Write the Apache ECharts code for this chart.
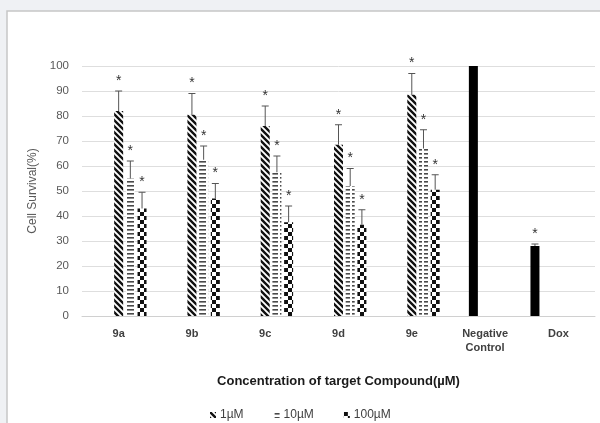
<!DOCTYPE html>
<html>
<head>
<meta charset="utf-8">
<script src="https://cdn.jsdelivr.net/npm/echarts@6/dist/echarts.min.js"></script>
<style>
html,body{margin:0;padding:0;background:#eff1f4;}
#chart{width:600px;height:423px;}
</style>
</head>
<body>
<div id="chart"></div>
<script>
const categories = ['9a', '9b', '9c', '9d', '9e', 'Negative\nControl', 'Dox'];
const yTicks = [0, 10, 20, 30, 40, 50, 60, 70, 80, 90, 100];
const seriesNames = ['1µM', '10µM', '100µM'];
const conc1 = [82, 80.5, 76, 68.5, 88.5, null, null];
const conc1Err = [8, 8.5, 8, 8, 8.5, null, null];
const conc10 = [55, 62.5, 57.5, 52, 67, null, null];
const conc10Err = [7, 5.5, 6.5, 7, 7.5, null, null];
const conc100 = [43, 47, 37.5, 36.5, 50.5, null, null];
const conc100Err = [6.5, 6, 6.5, 6, 6, null, null];
const negControl = [null, null, null, null, null, 100, null];
const dox = [null, null, null, null, null, null, 28];
const doxErr = [null, null, null, null, null, null, 0.8];

function makePattern(w, h, draw) {
  const c = document.createElement('canvas');
  c.width = w; c.height = h;
  const ctx = c.getContext('2d');
  ctx.fillStyle = '#ffffff';
  ctx.fillRect(0, 0, w, h);
  draw(ctx);
  return { image: c, repeat: 'repeat' };
}
const patDiag = makePattern(6, 6, ctx => {
  ctx.strokeStyle = '#111';
  ctx.lineWidth = 2.4;
  ctx.beginPath();
  ctx.moveTo(-1, -1); ctx.lineTo(7, 7);
  ctx.moveTo(5, -1); ctx.lineTo(7, 1);
  ctx.moveTo(-1, 5); ctx.lineTo(1, 7);
  ctx.stroke();
});
const patHoriz = makePattern(9, 4, ctx => {
  ctx.fillStyle = '#4a4a4a';
  ctx.fillRect(1, 1, 7, 1.6);
});
const patCheck = makePattern(8, 8, ctx => {
  ctx.fillStyle = '#111';
  ctx.fillRect(0, 0, 4, 4);
  ctx.fillRect(4, 4, 4, 4);
});

const BAR_W = 9;
const GAP = 2.7;
const STEP = BAR_W + GAP;

const errData = [];
function addErr(vals, errs, slot) {
  vals.forEach((v, i) => {
    if (v != null && errs[i] != null) errData.push([i, v, errs[i], slot]);
  });
}
addErr(dox, doxErr, 0);
addErr(conc1, conc1Err, 2);
addErr(conc10, conc10Err, 3);
addErr(conc100, conc100Err, 4);

const chart = echarts.init(document.getElementById('chart'), null, { renderer: 'canvas' });
const option = {
  backgroundColor: '#eff1f4',
  animation: false,
  graphic: [{
    type: 'rect', z: -100, silent: true,
    shape: { x: 7, y: 11, width: 700, height: 500 },
    style: { fill: '#ffffff', stroke: '#c6c6c6', lineWidth: 1.5 }
  }],
  grid: { left: 82, right: 5, top: 66, bottom: 107, containLabel: false },
  legend: {
    data: seriesNames,
    left: 205, top: 404,
    itemWidth: 6, itemHeight: 6, itemGap: 30,
    icon: 'rect',
    textStyle: { fontFamily: 'Liberation Sans', fontSize: 12, color: '#404040', padding: [0, 0, 0, -1] }
  },
  xAxis: {
    type: 'category',
    data: categories,
    name: 'Concentration of target Compound(µM)',
    nameLocation: 'middle',
    nameGap: 59,
    nameTextStyle: { fontFamily: 'Liberation Sans', fontWeight: 'bold', fontSize: 13, color: '#1a1a1a' },
    axisLine: { lineStyle: { color: '#d0d0d0' } },
    axisTick: { show: false },
    axisLabel: { fontFamily: 'Liberation Sans', fontWeight: 'bold', fontSize: 11, color: '#404040', margin: 11, lineHeight: 14 }
  },
  yAxis: {
    type: 'value',
    min: yTicks[0], max: yTicks[yTicks.length - 1], interval: 10,
    name: 'Cell Survival(%)',
    nameLocation: 'middle',
    nameRotate: 90,
    nameGap: 43,
    nameTextStyle: { fontFamily: 'Liberation Sans', fontSize: 12, color: '#595959' },
    axisLine: { show: false },
    axisTick: { show: false },
    axisLabel: { fontFamily: 'Liberation Sans', fontSize: 11.5, color: '#595959', margin: 13 },
    splitLine: { lineStyle: { color: '#dedede' } }
  },
  series: [
    { name: 'Dox', type: 'bar', data: dox, barWidth: BAR_W, barGap: (GAP / BAR_W * 100) + '%', itemStyle: { color: '#000' } },
    { name: 'Negative Control', type: 'bar', data: negControl, barWidth: BAR_W, barGap: (GAP / BAR_W * 100) + '%', itemStyle: { color: '#000' } },
    { name: seriesNames[0], type: 'bar', data: conc1, barWidth: BAR_W, barGap: (GAP / BAR_W * 100) + '%', itemStyle: { color: patDiag } },
    { name: seriesNames[1], type: 'bar', data: conc10, barWidth: BAR_W, barGap: (GAP / BAR_W * 100) + '%', itemStyle: { color: patHoriz } },
    { name: seriesNames[2], type: 'bar', data: conc100, barWidth: BAR_W, barGap: (GAP / BAR_W * 100) + '%', itemStyle: { color: patCheck } },
    {
      name: 'err', type: 'custom', z: 10,
      data: errData,
      renderItem: function (params, api) {
        const cat = api.value(0), v = api.value(1), e = api.value(2), slot = api.value(3);
        const base = api.coord([cat, v]);
        const top = api.coord([cat, v + e]);
        const x = base[0] + (slot - 2) * STEP;
        return {
          type: 'group',
          children: [
            { type: 'line', shape: { x1: x, y1: base[1], x2: x, y2: top[1] }, style: { stroke: '#555', lineWidth: 1 } },
            { type: 'line', shape: { x1: x - 3.5, y1: top[1], x2: x + 3.5, y2: top[1] }, style: { stroke: '#555', lineWidth: 1 } },
            { type: 'text', style: { x: x, y: top[1] - 3, text: '*', textAlign: 'center', textVerticalAlign: 'bottom', fill: '#333', font: '14px Liberation Sans' } }
          ]
        };
      }
    }
  ]
};
chart.setOption(option);
</script>
</body>
</html>
